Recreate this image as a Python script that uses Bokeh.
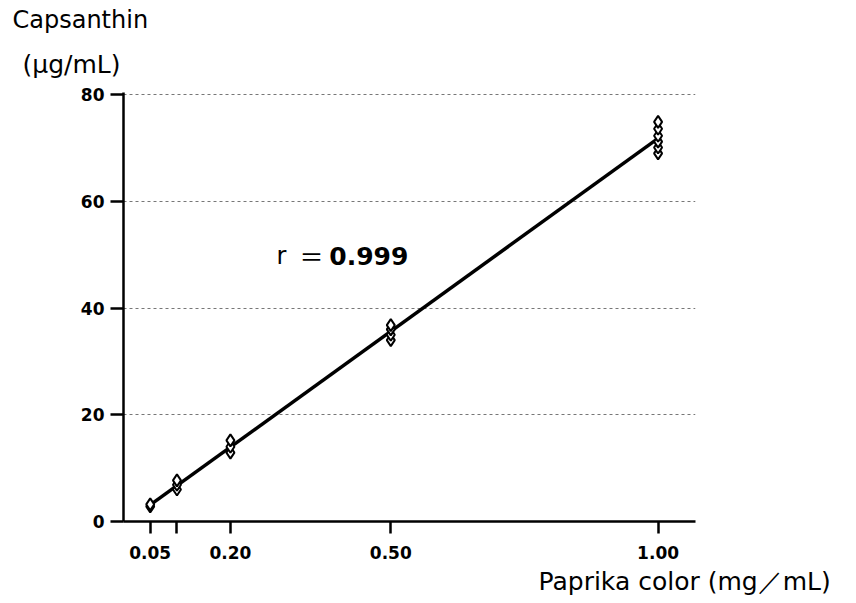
import numpy as np
from bokeh.plotting import figure
from bokeh.models import Label, FixedTicker, Range1d, Title
from bokeh.embed import file_html
from bokeh.resources import INLINE

# --- data ---
conc_005 = [0.05, 0.05]
caps_005 = [2.8, 3.2]
conc_010 = [0.10, 0.10, 0.10]
caps_010 = [6.0, 6.9, 7.7]
conc_020 = [0.20, 0.20, 0.20]
caps_020 = [12.9, 14.0, 15.2]
conc_050 = [0.50, 0.50, 0.50, 0.50]
caps_050 = [34.0, 35.0, 36.0, 36.8]
conc_100 = [1.00, 1.00, 1.00, 1.00, 1.00, 1.00]
caps_100 = [69.0, 70.1, 71.2, 72.3, 73.6, 74.9]

x_ticks = [0.05, 0.10, 0.20, 0.50, 1.00]
x_tick_labels = ["0.05", "", "0.20", "0.50", "1.00"]
y_ticks = [0, 20, 40, 60, 80]
r_value = "0.999"

conc = conc_005 + conc_010 + conc_020 + conc_050 + conc_100
caps = caps_005 + caps_010 + caps_020 + caps_050 + caps_100

FONT = "DejaVu Sans"
CJK = "Noto Sans CJK JP"

p = figure(width=848, height=599, x_range=Range1d(0, 1.07), y_range=Range1d(0, 80.4),
           output_backend="svg", toolbar_location=None, title=None,
           min_border_left=123, min_border_right=153, min_border_top=92, min_border_bottom=78)
p.outline_line_color = None
p.background_fill_color = "white"

# axes
xa = p.xaxis[0]
xa.ticker = FixedTicker(ticks=x_ticks)
xa.major_label_overrides = {t: l for t, l in zip(x_ticks, x_tick_labels)}
xa.axis_line_width = 2.5
xa.axis_line_color = "black"
xa.major_tick_line_width = 2.5
xa.major_tick_line_color = "black"
xa.major_tick_out = 12
xa.major_tick_in = 0
xa.minor_tick_line_color = None
xa.major_label_standoff = 12
xa.major_label_text_font = FONT
xa.major_label_text_font_style = "bold"
xa.major_label_text_font_size = "17px"
xa.major_label_text_color = "black"

ya = p.yaxis[0]
ya.ticker = FixedTicker(ticks=y_ticks)
ya.axis_line_width = 2.5
ya.axis_line_color = "black"
ya.major_tick_line_width = 2.5
ya.major_tick_line_color = "black"
ya.major_tick_out = 13
ya.major_tick_in = 0
ya.minor_tick_line_color = None
ya.major_label_standoff = 6
ya.major_label_text_font = FONT
ya.major_label_text_font_style = "bold"
ya.major_label_text_font_size = "17px"
ya.major_label_text_color = "black"

p.xgrid.visible = False
p.ygrid.ticker = FixedTicker(ticks=y_ticks[1:])
p.ygrid.grid_line_dash = "3 3"
p.ygrid.grid_line_color = "#777777"
p.ygrid.grid_line_width = 1

# regression line
slope, intercept = np.polyfit(conc, caps, 1)
xs = np.array([min(conc), max(conc)])
p.line(xs, slope * xs + intercept, line_color="black", line_width=3.5)

# points
p.scatter(conc, caps, marker="diamond", size=12, fill_color="white",
          line_color="black", line_width=2)

# y title (two lines, above the frame, shifted left)
p.add_layout(Title(text="(μg/mL)", align="left", offset=-101, text_font=FONT,
                   text_font_size="25px", text_font_style="normal", text_color="black",
                   standoff=27), "above")
p.add_layout(Title(text="Capsanthin", align="left", offset=-111, text_font=FONT,
                   text_font_size="24px", text_font_style="normal", text_color="black",
                   standoff=1), "above")
# x title (below, right side)
p.add_layout(Title(text="Paprika color (mg／mL)", align="left", offset=415, text_font=FONT,
                   text_font_size="25px", text_font_style="normal", text_color="black",
                   standoff=7), "below")

# r label
p.add_layout(Label(x=0.286, y=49.8, text="r", text_font=FONT,
                   text_font_size="24px", text_color="black", text_baseline="alphabetic"))
p.add_layout(Label(x=0.329, y=49.8, text="＝", text_font=CJK,
                   text_font_size="24px", text_color="black", text_baseline="alphabetic"))
p.add_layout(Label(x=0.385, y=49.8, text=r_value, text_font=FONT, text_font_style="bold",
                   text_font_size="25px", text_color="black", text_baseline="alphabetic"))

open("out.html", "w").write(file_html(p, INLINE))
